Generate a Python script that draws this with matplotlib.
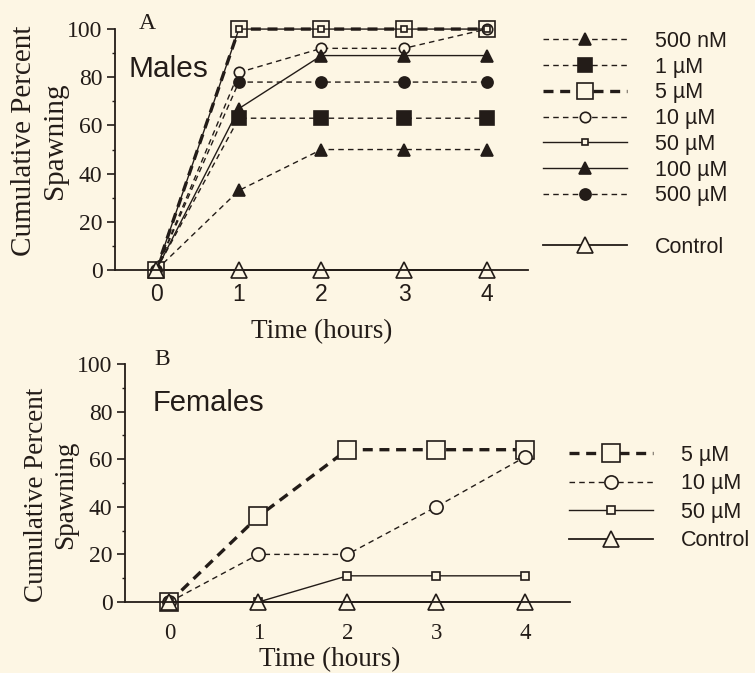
import matplotlib
matplotlib.use("Agg")
import matplotlib.pyplot as plt
from matplotlib.lines import Line2D
from matplotlib.ticker import MultipleLocator

# time points (hours)
hours = [0, 1, 2, 3, 4]

# A: males, cumulative percent spawning
male_labels = ["500 nM", "1 \u00b5M", "5 \u00b5M", "10 \u00b5M", "50 \u00b5M", "100 \u00b5M", "500 \u00b5M", "Control"]
male_500nM = [0, 33, 50, 50, 50]
male_1uM = [0, 63, 63, 63, 63]
male_5uM = [0, 100, 100, 100, 100]
male_10uM = [0, 82, 92, 92, 100]
male_50uM = [0, 100, 100, 100, 100]
male_100uM = [0, 67, 89, 89, 89]
male_500uM = [0, 78, 78, 78, 78]
male_control = [0, 0, 0, 0, 0]

# B: females
female_labels = ["5 \u00b5M", "10 \u00b5M", "50 \u00b5M", "Control"]
female_5uM = [0, 36, 64, 64, 64]
female_10uM = [0, 20, 20, 40, 61]
female_50uM = [0, 0, 11, 11, 11]
female_control = [0, 0, 0, 0, 0]

bg = "#fdf6e4"
ink = "#231c18"
serif = "Liberation Serif"
sans = "Liberation Sans"

# style per concentration: linestyle, linewidth, marker, size, filled
styles = {
    "500 nM": ((0, (4, 3)), 1.0, "^", 8, True),
    "1 \u00b5M": ((0, (4, 3)), 1.0, "s", 9.5, True),
    "5 \u00b5M": ((0, (3, 2)), 2.4, "s", 12, False),
    "10 \u00b5M": ((0, (4, 3)), 1.0, "o", 7.5, False),
    "50 \u00b5M": ("-", 1.0, "s", 5, False),
    "100 \u00b5M": ("-", 1.0, "^", 9, True),
    "500 \u00b5M": ((0, (4, 3)), 1.0, "o", 8, True),
    "Control": ("-", 1.3, "^", 11, False),
}


def draw(ax, label, y, msize=None):
    ls, lw, mk, ms, filled = styles[label]
    ax.plot(hours, y, linestyle=ls, linewidth=lw, color=ink, marker=mk,
            markersize=msize or ms, markerfacecolor=ink if filled else bg,
            markeredgecolor=ink, markeredgewidth=1.2, clip_on=False, label=label)


def handle(label, msize=None):
    ls, lw, mk, ms, filled = styles[label]
    return Line2D([], [], linestyle=ls, linewidth=lw, color=ink, marker=mk,
                  markersize=msize or ms, markerfacecolor=ink if filled else bg,
                  markeredgecolor=ink, markeredgewidth=1.2)


def style_axes(ax, xtick_font, xpad, ylab_size):
    ax.set_facecolor(bg)
    ax.set_xlim(-0.5, 4.5)
    ax.set_ylim(0, 100)
    for s in ("top", "right"):
        ax.spines[s].set_visible(False)
    ax.spines["left"].set_color(ink)
    ax.spines["bottom"].set_color(ink)
    ax.spines["left"].set_linewidth(1.3)
    ax.spines["bottom"].set_linewidth(1.3)
    ax.set_xticks(hours)
    ax.set_yticks([0, 20, 40, 60, 80, 100])
    ax.yaxis.set_minor_locator(MultipleLocator(10))
    ax.tick_params(axis="x", length=0, pad=xpad, labelsize=16.5, colors=ink)
    ax.tick_params(axis="y", which="major", length=6, width=1.2, direction="out",
                   labelsize=17, colors=ink, pad=3)
    ax.tick_params(axis="y", which="minor", length=2.5, width=1.0, colors=ink)
    for t in ax.get_xticklabels():
        t.set_fontfamily(xtick_font)
    for t in ax.get_yticklabels():
        t.set_fontfamily(serif)
    ax.set_xlabel("Time (hours)", fontfamily=serif, fontsize=19.5, color=ink)
    ax.set_ylabel("Cumulative Percent\nSpawning", fontfamily=serif,
                  fontsize=ylab_size, color=ink, linespacing=1.25)


fig = plt.figure(figsize=(7.55, 6.73), dpi=100, facecolor=bg)

# panel A
ax1 = fig.add_axes([0.1523, 0.5988, 0.547, 0.358])
style_axes(ax1, sans, 9, 21)
male_series = [male_500nM, male_1uM, male_5uM, male_10uM, male_50uM,
               male_100uM, male_500uM, male_control]
for lab, y in zip(male_labels, male_series):
    draw(ax1, lab, y)
ax1.xaxis.set_label_coords(0.5, -0.205)
ax1.yaxis.set_label_coords(-0.113, 0.535)
ax1.text(0.078, 1.023, "A", transform=ax1.transAxes, fontfamily=serif,
         fontsize=17, color=ink, ha="center", va="center")
ax1.text(0.032, 0.835, "Males", transform=ax1.transAxes, fontfamily=sans,
         fontsize=21.5, color=ink, ha="left", va="center")

hs = [handle(l) for l in male_labels[:-1]] + [Line2D([], [], alpha=0), handle("Control")]
ls = male_labels[:-1] + [" ", "Control"]
fig.legend(hs, ls, loc="upper left", bbox_to_anchor=(0.705, 0.97),
           frameon=False, prop={"family": sans, "size": 15.5},
           handlelength=3.9, handletextpad=1.3, labelspacing=0.22,
           labelcolor=ink, borderpad=0)

# panel B
ax2 = fig.add_axes([0.1656, 0.1055, 0.589, 0.3536])
style_axes(ax2, serif, 15, 19.5)
female_series = [female_5uM, female_10uM, female_50uM, female_control]
big = {"5 \u00b5M": 13, "10 \u00b5M": 9.5, "50 \u00b5M": 5.5, "Control": 11.5}
for lab, y in zip(female_labels, female_series):
    draw(ax2, lab, y, big[lab])
ax2.xaxis.set_label_coords(0.46, -0.19)
ax2.yaxis.set_label_coords(-0.105, 0.45)
ax2.text(0.083, 1.02, "B", transform=ax2.transAxes, fontfamily=serif,
         fontsize=17, color=ink, ha="center", va="center")
ax2.text(0.063, 0.835, "Females", transform=ax2.transAxes, fontfamily=sans,
         fontsize=21, color=ink, ha="left", va="center")

fig.legend([handle(l, big[l]) for l in female_labels], female_labels,
           loc="upper left", bbox_to_anchor=(0.739, 0.355),
           frameon=False, prop={"family": sans, "size": 15.5},
           handlelength=3.9, handletextpad=1.3, labelspacing=0.35,
           labelcolor=ink, borderpad=0)

fig.savefig("out.png", dpi=100, facecolor=bg)
